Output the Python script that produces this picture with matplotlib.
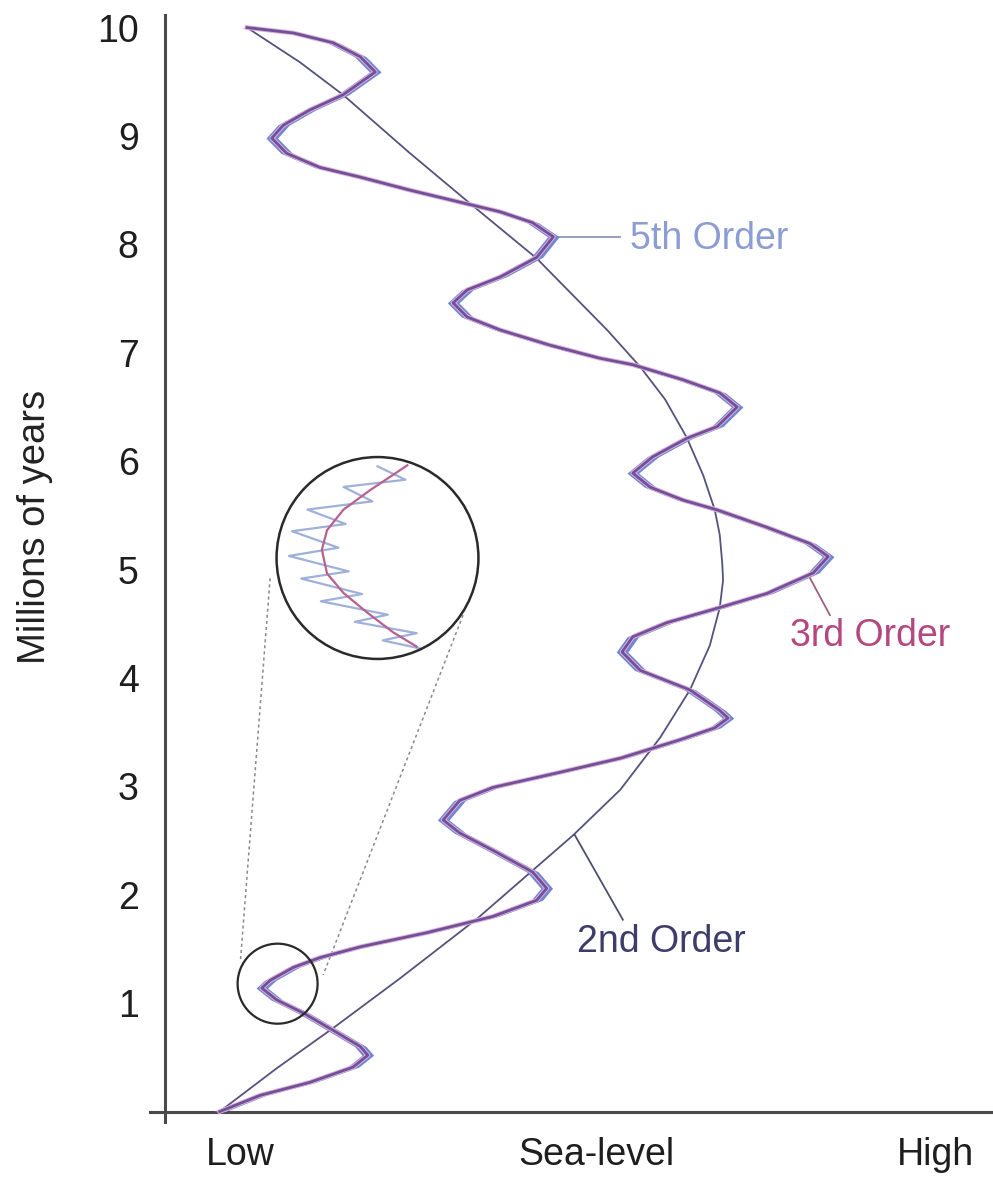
import matplotlib.pyplot as plt
import numpy as np
from matplotlib.patches import Circle, Ellipse

plt.rcParams["font.family"] = ["Liberation Sans", "DejaVu Sans"]

# 3rd order cycle: sea level (0-100, low to high) against time (Myr)
third_time = [0.0, 0.15, 0.27, 0.41, 0.52, 0.60, 0.75, 0.91, 1.03, 1.14,
              1.21, 1.33, 1.42, 1.52, 1.65, 1.80, 1.95, 2.06, 2.21, 2.41,
              2.57, 2.69, 2.87, 2.99, 3.13, 3.26, 3.43, 3.54, 3.63, 3.70,
              3.89, 4.07, 4.24, 4.38, 4.51, 4.65, 4.78, 4.97, 5.12, 5.24,
              5.39, 5.55, 5.64, 5.76, 5.89, 6.04, 6.21, 6.32, 6.50, 6.63,
              6.75, 6.89, 6.95, 7.07, 7.21, 7.33, 7.46, 7.58, 7.70, 7.88,
              8.07, 8.20, 8.30, 8.39, 8.50, 8.62, 8.71, 8.84, 8.98, 9.10,
              9.24, 9.38, 9.59, 9.73, 9.86, 9.95, 10.0]
third_level = [6.6, 11.5, 17.5, 22.7, 24.5, 23.6, 20.3, 16.7, 13.5, 11.7,
               12.7, 15.5, 18.7, 23.6, 31.6, 39.6, 44.9, 46.1, 44.4, 39.6,
               35.6, 33.6, 35.6, 39.6, 47.7, 55.0, 62.2, 66.4, 68.0, 67.0,
               63.4, 57.4, 55.2, 56.5, 60.6, 67.0, 72.7, 78.3, 80.1, 77.9,
               72.7, 66.7, 62.6, 58.6, 56.5, 58.9, 63.0, 66.7, 69.1, 67.0,
               62.6, 56.5, 52.5, 46.5, 40.5, 36.5, 34.8, 36.5, 40.5, 44.9,
               46.9, 44.4, 40.5, 35.6, 29.6, 23.6, 18.7, 14.7, 12.9, 14.3,
               17.5, 21.5, 25.4, 23.6, 20.3, 15.5, 9.9]

# 2nd order cycle
second_time = [0.0, 0.40, 0.77, 1.23, 1.78, 2.55, 2.97, 3.45, 3.89, 4.30,
               4.65, 4.90, 5.06, 5.32, 5.55, 5.87, 6.22, 6.57, 6.87, 7.21,
               7.87, 8.38, 8.84, 9.38, 9.68, 10.0]
second_level = [6.6, 13.5, 20.3, 28.4, 37.7, 49.3, 55.0, 59.8, 63.4, 65.8,
                67.0, 67.4, 67.3, 67.0, 66.4, 65.0, 63.0, 60.4, 57.4, 53.4,
                44.9, 36.8, 29.6, 21.5, 16.3, 9.9]

# 5th order swing either side of the 3rd order curve
fifth_amp = 0.7

# magnified view around 1.2 Myr (inset units, -1..1)
zoom_third_u = [0.29, -0.07, -0.33, -0.49, -0.54, -0.49, -0.33, -0.10, 0.15, 0.38]
zoom_third_v = [0.90, 0.66, 0.47, 0.27, 0.08, -0.15, -0.34, -0.53, -0.72, -0.86]
zoom_fifth_u = [0.00, 0.27, -0.33, -0.05, -0.68, -0.31, -0.83, -0.38, -0.86,
                -0.28, -0.74, -0.15, -0.55, 0.10, -0.22, 0.38, 0.05, 0.42]
zoom_fifth_v = [0.89, 0.76, 0.69, 0.55, 0.47, 0.33, 0.26, 0.10, 0.02,
                -0.13, -0.20, -0.35, -0.42, -0.55, -0.62, -0.73, -0.80, -0.88]

y_ticks = list(range(1, 11))
x_tick_pos = [9.1, 52.1, 93.1]
x_tick_labels = ["Low", "Sea-level", "High"]

fig = plt.figure(figsize=(9.93, 11.84), dpi=100)
ax = fig.add_axes([150 / 993, 62 / 1184, 843 / 993, 1107 / 1184])
ax.set_xlim(-1.81, 100)
ax.set_ylim(-0.096, 10.116)

for side in ["top", "right"]:
    ax.spines[side].set_visible(False)
for side in ["left", "bottom"]:
    ax.spines[side].set_position(("data", 0))
    ax.spines[side].set_linewidth(2.2)
    ax.spines[side].set_color("#4a4a4a")

ax.set_yticks(y_ticks)
ax.set_xticks(x_tick_pos)
ax.set_xticklabels(x_tick_labels)
ax.tick_params(axis="y", length=0, pad=19, labelsize=27, labelcolor="#1e1e1e")
ax.tick_params(axis="x", length=0, pad=18, labelsize=27, labelcolor="#1e1e1e")
ax.set_ylabel("Millions of years", fontsize=27.5, color="#222222", labelpad=0)
ax.yaxis.set_label_coords(-0.115, 0.5375)

t3 = np.array(third_time)
x3 = np.array(third_level)

# 2nd order
ax.plot(second_level, second_time, color="#55527c", lw=1.3, zorder=3)

# 5th order band, then 3rd order on top
ax.fill_betweenx(t3, x3 - fifth_amp, x3 + fifth_amp, color="#7285d2",
                 lw=0, zorder=4)
ax.plot(x3, t3, color="#d8b2dc", lw=3.4, zorder=4, solid_joinstyle="round")
ax.plot(x3, t3, color="#744f97", lw=2.0, zorder=5, solid_joinstyle="round")

# small circle and dotted guides to the magnified view
ax.add_patch(Ellipse((13.6, 1.18), 9.66, 0.738, fill=False, lw=1.6,
                     ec="#2a2a2a", zorder=6))
ax.plot([12.7, 9.1], [4.92, 1.38], ls=(0, (2, 2)), color="#8a8a8a", lw=1.1, zorder=2)
ax.plot([36.0, 19.1], [4.58, 1.26], ls=(0, (2, 2)), color="#8a8a8a", lw=1.1, zorder=2)

# labels with leader lines
ax.plot([47.5, 55.0], [8.07, 8.07], color="#8a97b8", lw=1.3, zorder=3)
ax.text(56.2, 8.05, "5th Order", fontsize=27, color="#8c9dd6",
        ha="left", va="center")
ax.plot([77.7, 80.3], [4.95, 4.58], color="#a0607f", lw=1.3, zorder=3)
ax.text(75.5, 4.39, "3rd Order", fontsize=27, color="#b4477f",
        ha="left", va="center")
ax.plot([49.5, 55.3], [2.55, 1.77], color="#4e4e70", lw=1.3, zorder=3)
ax.text(49.8, 1.56, "2nd Order", fontsize=27, color="#3d3d6b",
        ha="left", va="center")

# magnified inset
ins = fig.add_axes([274.5 / 993, (1184 - 661) / 1184, 206 / 993, 206 / 1184])
ins.set_xlim(-1, 1)
ins.set_ylim(-1, 1)
ins.axis("off")
ring = Circle((0, 0), 0.98, fill=False, lw=1.8, ec="#2a2a2a", zorder=5)
ins.add_patch(ring)
fifth_line, = ins.plot(zoom_fifth_u, zoom_fifth_v, color="#9fb0da", lw=1.6, zorder=2)
third_line, = ins.plot(zoom_third_u, zoom_third_v, color="#b8608f", lw=1.6, zorder=3)
clip = Circle((0, 0), 0.98, transform=ins.transData)
fifth_line.set_clip_path(clip)
third_line.set_clip_path(clip)

fig.savefig("out.png", dpi=100, facecolor="white")
